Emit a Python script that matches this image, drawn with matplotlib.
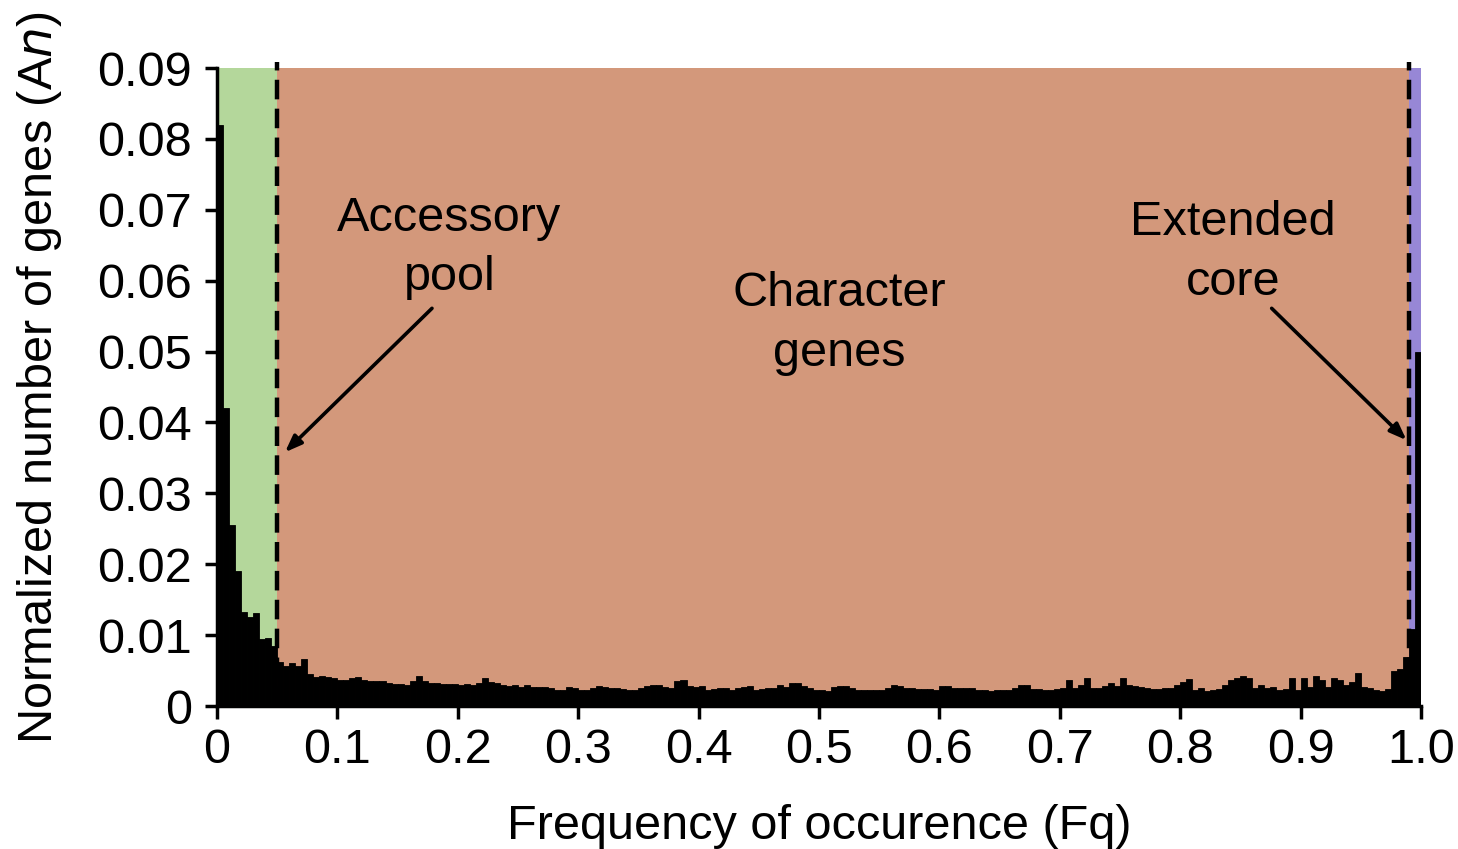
import matplotlib
matplotlib.use("Agg")
import matplotlib.pyplot as plt
import numpy as np

plt.rcParams['font.family'] = ['Liberation Sans', 'DejaVu Sans']

# Histogram of gene occurrence frequency (200 bins of width 0.005)
bin_width = 0.005
an_values = [
    0.0820, 0.0420, 0.0255, 0.0190, 0.0133, 0.0126, 0.0131, 0.0094, 0.0096, 0.0084,
    0.0062, 0.0056, 0.0060, 0.0057, 0.0066, 0.0045, 0.0041, 0.0042, 0.0041, 0.0040,
    0.0037, 0.0037, 0.0039, 0.0041, 0.0037, 0.0036, 0.0035, 0.0035, 0.0033, 0.0031,
    0.0031, 0.0030, 0.0036, 0.0042, 0.0035, 0.0033, 0.0033, 0.0031, 0.0031, 0.0031,
    0.0030, 0.0031, 0.0030, 0.0032, 0.0039, 0.0034, 0.0033, 0.0030, 0.0028, 0.0029,
    0.0027, 0.0030, 0.0027, 0.0027, 0.0027, 0.0026, 0.0023, 0.0023, 0.0027, 0.0026,
    0.0023, 0.0022, 0.0026, 0.0028, 0.0027, 0.0025, 0.0025, 0.0024, 0.0023, 0.0023,
    0.0026, 0.0028, 0.0030, 0.0029, 0.0027, 0.0026, 0.0036, 0.0037, 0.0028, 0.0027,
    0.0028, 0.0023, 0.0024, 0.0025, 0.0025, 0.0023, 0.0025, 0.0027, 0.0028, 0.0023,
    0.0024, 0.0025, 0.0026, 0.0030, 0.0027, 0.0033, 0.0032, 0.0028, 0.0026, 0.0023,
    0.0023, 0.0021, 0.0027, 0.0028, 0.0028, 0.0025, 0.0023, 0.0022, 0.0022, 0.0023,
    0.0022, 0.0026, 0.0029, 0.0028, 0.0025, 0.0025, 0.0024, 0.0024, 0.0024, 0.0023,
    0.0028, 0.0028, 0.0025, 0.0025, 0.0026, 0.0025, 0.0023, 0.0022, 0.0021, 0.0022,
    0.0022, 0.0023, 0.0026, 0.0030, 0.0030, 0.0024, 0.0024, 0.0023, 0.0023, 0.0024,
    0.0025, 0.0037, 0.0025, 0.0030, 0.0039, 0.0025, 0.0025, 0.0028, 0.0033, 0.0028,
    0.0039, 0.0030, 0.0028, 0.0027, 0.0025, 0.0024, 0.0024, 0.0025, 0.0025, 0.0030,
    0.0034, 0.0038, 0.0022, 0.0025, 0.0021, 0.0022, 0.0024, 0.0030, 0.0037, 0.0039,
    0.0042, 0.0040, 0.0025, 0.0030, 0.0025, 0.0027, 0.0022, 0.0024, 0.0039, 0.0023,
    0.0039, 0.0027, 0.0042, 0.0037, 0.0027, 0.0039, 0.0037, 0.0030, 0.0034, 0.0046,
    0.0027, 0.0025, 0.0022, 0.0021, 0.0024, 0.0050, 0.0052, 0.0069, 0.0109, 0.0500,
]
bin_left = np.arange(len(an_values)) * bin_width

# Gene pool boundaries
accessory_cut = 0.05
core_cut = 0.99

x_ticks = [0, 0.1, 0.2, 0.3, 0.4, 0.5, 0.6, 0.7, 0.8, 0.9, 1.0]
x_tick_labels = ["0", "0.1", "0.2", "0.3", "0.4", "0.5", "0.6", "0.7", "0.8", "0.9", "1.0"]
y_ticks = [0, 0.01, 0.02, 0.03, 0.04, 0.05, 0.06, 0.07, 0.08, 0.09]
y_tick_labels = ["0", "0.01", "0.02", "0.03", "0.04", "0.05", "0.06", "0.07", "0.08", "0.09"]

fig = plt.figure(figsize=(14.58, 8.49), dpi=100)
ax = fig.add_axes([0.1488, 0.1684, 0.8258, 0.7515])

ymax = 0.09
ax.set_xlim(0, 1.0)
ax.set_ylim(0, ymax)

# Shaded regions
ax.axvspan(0, accessory_cut, color="#B4D79B", lw=0, zorder=0)
ax.axvspan(accessory_cut, core_cut, color="#D3987B", lw=0, zorder=0)
ax.axvspan(core_cut, 1.0, color="#9787D6", lw=0, zorder=0)

# Histogram
ax.bar(bin_left, an_values, width=bin_width, align="edge", color="black",
       edgecolor="black", linewidth=0.6, zorder=2)

# Boundary lines
for xc in (accessory_cut, core_cut):
    ax.plot([xc, xc], [0, 0.0908], color="black", lw=3.2,
            linestyle=(0, (4.4, 2.1)), zorder=3, clip_on=False)

# Annotations
txt_kw = dict(ha="center", va="center", fontsize=35, linespacing=1.42, zorder=4)
ax.text(0.193, 0.0646, "Accessory\npool", **txt_kw)
ax.text(0.517, 0.0540, "Character\ngenes", **txt_kw)
ax.text(0.844, 0.0640, "Extended\ncore", **txt_kw)

arrow_kw = dict(arrowstyle="-|>,head_length=1.0,head_width=0.38", lw=2.6,
                color="black", shrinkA=0, shrinkB=0)
ax.annotate("", xy=(0.0565, 0.0358), xytext=(0.1786, 0.0561),
            arrowprops=arrow_kw, zorder=4)
ax.annotate("", xy=(0.988, 0.0375), xytext=(0.876, 0.0561),
            arrowprops=arrow_kw, zorder=4)

# Axes styling
for side in ("top", "right"):
    ax.spines[side].set_visible(False)
for side in ("left", "bottom"):
    ax.spines[side].set_linewidth(2.5)

ax.set_xticks(x_ticks)
ax.set_xticklabels(x_tick_labels)
ax.set_yticks(y_ticks)
ax.set_yticklabels(y_tick_labels)
ax.tick_params(axis="both", direction="out", length=9, width=2.5, labelsize=35)
ax.tick_params(axis="x", pad=7)
ax.tick_params(axis="y", pad=9)

ax.set_xlabel("Frequency of occurence (Fq)", fontsize=35, labelpad=22)
ax.set_ylabel("Normalized number of genes (A$\\mathit{n}$)", fontsize=35,
              va="center")
ax.yaxis.set_label_coords(-0.147, 0.515)

fig.savefig("out.png", dpi=100)
